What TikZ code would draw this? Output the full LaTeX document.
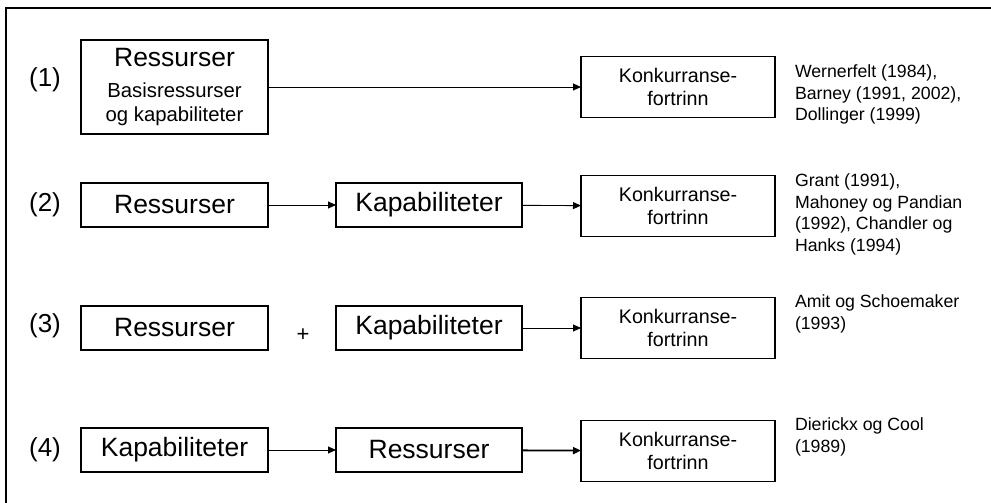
\documentclass[tikz,border=0pt]{standalone}
\usepackage{fontspec}
\setmainfont{Liberation Sans}
\usetikzlibrary{arrows.meta,positioning}
\begin{document}
\begin{tikzpicture}[x=1pt,y=-1pt,
  every node/.style={inner sep=0pt,outer sep=0pt},
  box/.style={draw,line width=1.5pt,minimum width=187pt,minimum height=44pt,
              font=\fontsize{26.5}{30}\selectfont},
  konk/.style={draw,line width=1.5pt,minimum width=194pt,minimum height=61pt,
               align=center,font=\fontsize{19.7}{23}\selectfont},
  cite/.style={anchor=north west,align=left,font=\fontsize{17.7}{21.8}\selectfont},
  num/.style={font=\fontsize{26}{30}\selectfont},
  arr/.style={line width=0.9pt,-{Triangle[length=8pt,width=7pt]}},
  thickarr/.style={line width=1.8pt,-{Triangle[length=8pt,width=7pt]}}]
\useasboundingbox (0,0) rectangle (991,503);
% frame: top and left edges
\draw[line width=1.5pt] (6,503) -- (6,8) -- (991,8);

% row (1)
\node[num] (n1) at (45,80) {(1)};
\node[draw,line width=1.5pt,minimum width=187pt,minimum height=94pt,align=center,
      font=\fontsize{20.3}{24}\selectfont] (a1) at (174.5,87)
  {{\fontsize{26.5}{30}\selectfont Ressurser}\\[7pt]
   Basisressurser\\
   og kapabiliteter};
\node[konk] (k1) at (678,87) {Konkurranse-\\fortrinn};
\node[cite] (c1) at ([xshift=20pt,yshift=-8pt]k1.north east) {Wernerfelt (1984),\\Barney (1991, 2002),\\Dollinger (1999)};
\draw[arr] (a1) -- (k1);

% row (2)
\node[num] (n2) at (45,205) {(2)};
\node[box] (a2) at (174.5,205) {Ressurser};
\node[box,minimum width=186pt] (b2) at (429,205) {Kapabiliteter};
\node[konk] (k2) at (678,206) {Konkurranse-\\fortrinn};
\node[cite] (c2) at ([xshift=20pt,yshift=2pt]k2.north east) {Grant (1991),\\Mahoney og Pandian\\(1992), Chandler og\\Hanks (1994)};
\draw[arr] (a2) -- (b2);
\draw[arr] (b2) -- (k2);

% row (3)
\node[num] (n3) at (45,326) {(3)};
\node[box] (a3) at (174.5,328) {Ressurser};
\node[font=\fontsize{22}{26}\selectfont] (p3) at (303,335) {+};
\node[box,minimum width=186pt] (b3) at (429,328) {Kapabiliteter};
\node[konk] (k3) at (678,328) {Konkurranse-\\fortrinn};
\node[cite] (c3) at ([xshift=20pt,yshift=3pt]k3.north east) {Amit og Schoemaker\\(1993)};
\draw[arr] (b3) -- (k3);

% row (4)
\node[num] (n4) at (45,450) {(4)};
\node[box] (a4) at (174.5,450) {Kapabiliteter};
\node[box,minimum width=186pt] (b4) at (429,450) {Ressurser};
\node[konk] (k4) at (678,451) {Konkurranse-\\fortrinn};
\node[cite] (c4) at ([xshift=20pt,yshift=3pt]k4.north east) {Dierickx og Cool\\(1989)};
\draw[arr] (a4) -- (b4);
\draw[thickarr] (b4) -- (k4);
\end{tikzpicture}
\end{document}
